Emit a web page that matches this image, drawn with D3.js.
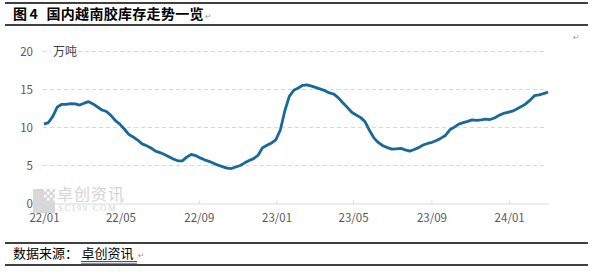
<!DOCTYPE html>
<html>
<head>
<meta charset="utf-8">
<script src="https://cdn.jsdelivr.net/npm/d3@7"></script>
<style>
  body { margin: 0; background: #fff; }
  svg { display: block; }
</style>
</head>
<body>
<div id="chart-area"></div>
<script>
// weekly stock, 10k tons, first week starts 2022-01-01
var startDate = new Date(2022, 0, 1);
var stock = [
    10.45, 10.65, 11.5, 12.7, 13.05, 13.05, 13.15, 13.1, 12.95, 13.2,
    13.4, 13.1, 12.7, 12.3, 12.1, 11.6, 10.9, 10.45, 9.8, 9.1,
    8.75, 8.35, 7.85, 7.6, 7.3, 6.9, 6.7, 6.45, 6.15, 5.85,
    5.62, 5.6, 6.1, 6.45, 6.3, 6.0, 5.75, 5.55, 5.3, 5.05,
    4.85, 4.65, 4.6, 4.8, 5.0, 5.35, 5.65, 5.9, 6.35, 7.35,
    7.65, 7.95, 8.4, 9.7, 12.2, 14.1, 14.9, 15.2, 15.55, 15.6,
    15.45, 15.25, 15.05, 14.85, 14.55, 14.4, 13.9, 13.25, 12.65, 12.0,
    11.65, 11.3, 10.75, 9.6, 8.6, 8.0, 7.6, 7.35, 7.15, 7.2,
    7.25, 7.05, 6.9, 7.1, 7.35, 7.7, 7.9, 8.05, 8.3, 8.6,
    8.95, 9.7, 10.05, 10.45, 10.65, 10.8, 11.0, 10.95, 11.0, 11.1,
    11.05, 11.25, 11.6, 11.85, 12.0, 12.15, 12.45, 12.75, 13.1, 13.6,
    14.2, 14.3, 14.45, 14.65
];
var yTicks = [0, 5, 10, 15, 20];
var title = "国内越南胶库存走势一览";
var unitLabel = "万吨";

var width = 592, height = 273;
var plot = {left: 44, right: 548, top: 51.5, bottom: 203.5};
var fontCJK = "'Noto Sans CJK SC', 'Noto Sans', sans-serif";
var lineColor = "#17699a";

var data = stock.map((v, i) => { return {date: d3.timeDay.offset(startDate, 7 * i), value: v}; });

var svg = d3.select("#chart-area").append("svg").attr("width", width).attr("height", height);

// frame lines of the document figure
[3, 25, 243, 265].forEach((yy) => {
    svg.append("line").attr("x1", 5).attr("x2", 588).attr("y1", yy).attr("y2", yy)
        .attr("stroke", "#000").attr("stroke-width", 1.5);
});

svg.append("text").attr("x", 13).attr("y", 19).attr("font-family", fontCJK).attr("font-weight", "bold")
    .attr("font-size", "14px").attr("fill", "#000").text("图");
svg.append("text").attr("x", 29.5).attr("y", 19).attr("font-family", fontCJK).attr("font-weight", "bold")
    .attr("font-size", "14px").attr("fill", "#000").text("4");
svg.append("text").attr("x", 46.5).attr("y", 19).attr("font-family", fontCJK).attr("font-weight", "bold")
    .attr("font-size", "14px").attr("letter-spacing", "0.3px").attr("fill", "#000").text(title);
svg.append("text").attr("x", 205).attr("y", 19).attr("font-family", "DejaVu Sans").attr("font-size", "8px")
    .attr("fill", "#999").text("↵");
svg.append("text").attr("x", 573).attr("y", 40).attr("font-family", "DejaVu Sans").attr("font-size", "8px")
    .attr("fill", "#999").text("↵");

// watermark
var wm = svg.append("g").attr("class", "watermark");
wm.append("rect").attr("x", 33).attr("y", 189).attr("width", 22).attr("height", 24).attr("fill", "#d8d8d8");
[[44, 189], [50, 189], [47, 192], [44, 195], [50, 195], [47, 198], [53, 192], [53, 198]].forEach((p) => {
    wm.append("rect").attr("x", p[0]).attr("y", p[1]).attr("width", 2.5).attr("height", 2.5).attr("fill", "#fff");
});
wm.append("text").attr("x", 57).attr("y", 200).attr("font-family", fontCJK).attr("font-size", "16px")
    .attr("letter-spacing", "1px").attr("fill", "#d4d4d4").text("卓创资讯");
wm.append("text").attr("x", 58).attr("y", 211).attr("font-family", "'Liberation Serif', serif").attr("font-size", "8.5px")
    .attr("letter-spacing", "1.8px").attr("fill", "#d4d4d4").text("SCI99.COM");

var x = d3.scaleTime().domain([startDate, data[data.length - 1].date]).range([plot.left, plot.right]);
var y = d3.scaleLinear().domain([0, 20]).range([plot.bottom, plot.top]);

// dashed gridlines
var grid = svg.append("g").attr("class", "grid");
grid.selectAll("line").data(yTicks.filter((d) => { return d > 0; })).enter().append("line")
    .attr("x1", plot.left - 1).attr("x2", plot.right - 1)
    .attr("y1", (d) => { return y(d); }).attr("y2", (d) => { return y(d); })
    .attr("stroke", "#d9d9d9").attr("stroke-width", 1).attr("stroke-dasharray", "4,3");

// unit label sits on top of the 20 gridline
svg.append("rect").attr("x", 51).attr("y", 44).attr("width", 27).attr("height", 14).attr("fill", "#fff");
svg.append("text").attr("x", 53).attr("y", 55.5).attr("font-family", fontCJK).attr("font-size", "12px")
    .attr("fill", "#404040").text(unitLabel);

var yAxisGroup = svg.append("g").attr("class", "y axis").attr("transform", "translate(36, 0)")
    .call(d3.axisLeft(y).tickValues(yTicks).tickSize(0).tickPadding(3));
yAxisGroup.select(".domain").remove();
yAxisGroup.selectAll("text").attr("font-family", fontCJK).attr("font-size", "11.5px").attr("fill", "#595959");

var xAxis = d3.axisBottom(x).ticks(d3.timeMonth.every(4)).tickFormat(d3.timeFormat("%y/%m"))
    .tickSizeInner(-3).tickSizeOuter(0).tickPadding(10);
var xAxisGroup = svg.append("g").attr("class", "x axis").attr("transform", "translate(0, " + plot.bottom + ")").call(xAxis);
xAxisGroup.select(".domain").attr("stroke", "#d9d9d9");
xAxisGroup.selectAll(".tick line").attr("stroke", "#d9d9d9");
xAxisGroup.selectAll("text").attr("font-family", fontCJK).attr("font-size", "11.5px").attr("fill", "#595959");

var line = d3.line().x((d) => { return x(d.date); }).y((d) => { return y(d.value); });
svg.append("path").datum(data).attr("d", line).attr("fill", "none")
    .attr("stroke", lineColor).attr("stroke-width", 2.8).attr("stroke-linejoin", "round");

// source
svg.append("text").attr("x", 13).attr("y", 258).attr("font-family", fontCJK).attr("font-size", "13px")
    .attr("fill", "#000").text("数据来源：");
svg.append("text").attr("x", 81.5).attr("y", 258).attr("font-family", fontCJK).attr("font-size", "13px")
    .attr("fill", "#000").text("卓创资讯");
svg.append("line").attr("x1", 81).attr("x2", 137).attr("y1", 261.5).attr("y2", 261.5)
    .attr("stroke", "#3050c8").attr("stroke-width", 1.2);
svg.append("line").attr("x1", 81).attr("x2", 137).attr("y1", 263.3).attr("y2", 263.3)
    .attr("stroke", "#3050c8").attr("stroke-width", 0.8);
svg.append("text").attr("x", 138).attr("y", 258).attr("font-family", "DejaVu Sans").attr("font-size", "8px")
    .attr("fill", "#999").text("↵");
</script>
</body>
</html>
